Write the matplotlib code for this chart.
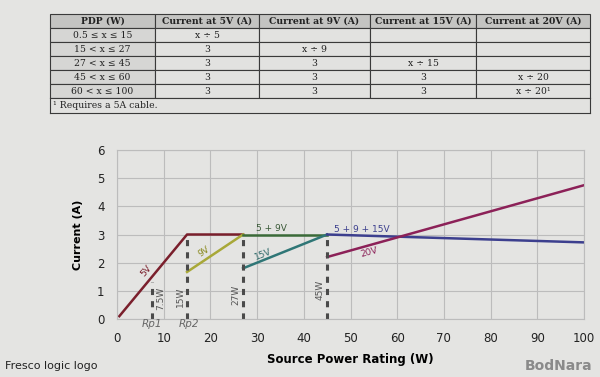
import matplotlib.pyplot as plt
import numpy as np

# table contents
headers = ["PDP (W)", "Current at 5V (A)", "Current at 9V (A)",
           "Current at 15V (A)", "Current at 20V (A)"]
rows = [
    ["0.5 \u2264 x \u2264 15", "x \u00f7 5", "", "", ""],
    ["15 < x \u2264 27", "3", "x \u00f7 9", "", ""],
    ["27 < x \u2264 45", "3", "3", "x \u00f7 15", ""],
    ["45 < x \u2264 60", "3", "3", "3", "x \u00f7 20"],
    ["60 < x \u2264 100", "3", "3", "3", "x \u00f7 20\u00b9"],
]
footnote = "\u00b9 Requires a 5A cable."

# curve segments (W, A)
x_5v = [0.5, 15, 27]
y_5v = [0.1, 3, 3]
x_9v = [15, 27]
y_9v = [1.67, 3]
x_59 = [27, 45]
y_59 = [3, 3]
x_15v = [27, 45]
y_15v = [1.8, 3]
x_5915 = [45, 100]
y_5915 = [3, 2.72]
x_20v = [45, 100]
y_20v = [2.2, 4.75]

# dashed markers: power, top of dash, label
mark_x = [7.5, 15, 27, 45]
mark_top = [1.3, 3, 3, 3]
mark_lbl = ["7.5W", "15W", "27W", "45W"]

bg = "#e4e4e2"
fig = plt.figure(figsize=(6, 3.77), dpi=100, facecolor=bg)

# ---- table ----
W, H = 600, 377
tx0, tx1 = 50, 590
ty0, ty1 = 14, 98
ax_t = fig.add_axes([tx0 / W, 1 - ty1 / H, (tx1 - tx0) / W, (ty1 - ty0) / H])
ax_t.axis("off")
col_w = np.array([105, 104, 111, 106, 114], dtype=float)
col_w = col_w / col_w.sum()
tab = ax_t.table(cellText=rows, colLabels=headers, colWidths=list(col_w),
                 cellLoc="center", bbox=[0, 0, 1, 1])
tab.auto_set_font_size(False)
for (r, c), cell in tab.get_celld().items():
    cell.set_edgecolor("#3a3a3a")
    cell.set_linewidth(0.8)
    cell.get_text().set_fontfamily("DejaVu Serif")
    cell.get_text().set_fontsize(6.7)
    cell.get_text().set_color("#222222")
    if r == 0:
        cell.set_facecolor("#c4c4c2")
        cell.get_text().set_fontweight("bold")
    elif c == 0:
        cell.set_facecolor("#d6d6d4")
    else:
        cell.set_facecolor("#e2e2e0")

ax_f = fig.add_axes([tx0 / W, 1 - 113 / H, (tx1 - tx0) / W, 15 / H])
ax_f.set_xlim(0, 1)
ax_f.set_ylim(0, 1)
ax_f.set_xticks([])
ax_f.set_yticks([])
ax_f.set_facecolor("#e2e2e0")
for s in ax_f.spines.values():
    s.set_color("#3a3a3a")
    s.set_linewidth(0.8)
ax_f.text(0.005, 0.5, footnote, fontsize=6.7, family="DejaVu Serif",
          va="center", ha="left", color="#222222")

# ---- chart ----
ax = fig.add_axes([117 / W, 1 - 319 / H, (584 - 117) / W, (319 - 150) / H])
ax.set_facecolor(bg)
ax.set_xlim(0, 100)
ax.set_ylim(0, 6)
ax.set_xticks(np.arange(0, 101, 10))
ax.set_yticks(np.arange(0, 7, 1))
ax.grid(True, color="#bcbcbc", linewidth=0.8)
ax.set_axisbelow(True)
for s in ax.spines.values():
    s.set_color("#bcbcbc")
    s.set_linewidth(0.8)
ax.tick_params(length=0, pad=9, labelsize=8.5, colors="#222222")

ax.plot(x_5v, y_5v, color="#7a1f2c", lw=1.8)
ax.plot(x_9v, y_9v, color="#a8a838", lw=1.8)
ax.plot(x_59, y_59, color="#3a6a38", lw=1.8)
ax.plot(x_15v, y_15v, color="#2f7676", lw=1.8)
ax.plot(x_5915, y_5915, color="#3c3f8e", lw=1.8)
ax.plot(x_20v, y_20v, color="#8c2158", lw=1.8)

lbl_x = [9.3, 13.6, 25.4, 43.5]
lbl_y = [0.75, 0.8, 0.85, 1.05]
for xv, top, lbl, lx, ly in zip(mark_x, mark_top, mark_lbl, lbl_x, lbl_y):
    ax.plot([xv, xv], [0, top], color="#4a4a4a", lw=2.2, ls=(0, (2, 2)))
    ax.text(lx, ly, lbl, rotation=90, fontsize=6.5, color="#555555",
            ha="center", va="center")
ax.text(7.5, -0.18, "Rp1", fontsize=7.5, style="italic", color="#666666",
        ha="center", va="center", clip_on=False)
ax.text(15.5, -0.18, "Rp2", fontsize=7.5, style="italic", color="#666666",
        ha="center", va="center", clip_on=False)

ax.text(6.3, 1.72, "5V", rotation=50, fontsize=6.5, color="#7a1f2c",
        ha="center", va="center")
ax.text(18.6, 2.38, "9V", rotation=34, fontsize=6.5, color="#8a8a20",
        ha="center", va="center")
ax.text(31.2, 2.3, "15V", rotation=22, fontsize=6.5, color="#2f6a6a",
        ha="center", va="center")
ax.text(33, 3.05, "5 + 9V", fontsize=6.5, color="#3a5a38",
        ha="center", va="bottom")
ax.text(52.5, 3.02, "5 + 9 + 15V", fontsize=6.5, color="#3c3f8e",
        ha="center", va="bottom")
ax.text(54, 2.36, "20V", rotation=15, fontsize=6.5, color="#8c2158",
        ha="center", va="center")

ax.set_ylabel("Current (A)", fontsize=8, fontweight="bold", labelpad=10)
ax.set_xlabel("Source Power Rating (W)", fontsize=8.5, fontweight="bold",
              labelpad=6)

fig.text(5 / W, 1 - 366 / H, "Fresco logic logo", fontsize=8, color="#222222",
         va="center", ha="left")
fig.text(592 / W, 1 - 366 / H, "BodNara", fontsize=10, fontweight="bold",
         color="#8a8a8a", va="center", ha="right")

fig.savefig("out.png", dpi=100, facecolor=bg)
